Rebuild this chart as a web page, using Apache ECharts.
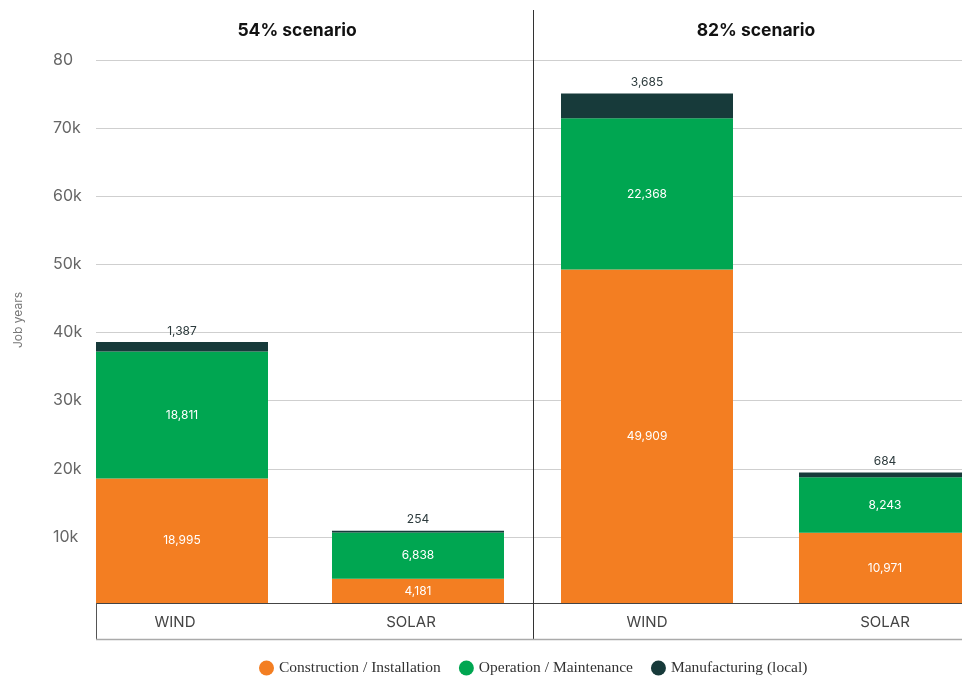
<!DOCTYPE html>
<html>
<head>
<meta charset="utf-8">
<style>html,body{margin:0;padding:0;background:#fff}#c{width:962px;height:684px}</style>
<script src="https://cdn.jsdelivr.net/npm/echarts@6/dist/echarts.min.js"></script>
</head>
<body>
<div id="c"></div>
<script>
var categories = ['WIND', 'SOLAR'];
var scenarios = ['54% scenario', '82% scenario'];
var seriesNames = ['Construction / Installation', 'Operation / Maintenance', 'Manufacturing (local)'];
var construction54 = [18995, 4181];
var operation54 = [18811, 6838];
var manufacturing54 = [1387, 254];
var construction82 = [49909, 10971];
var operation82 = [22368, 8243];
var manufacturing82 = [3685, 684];
var yTickLabels = ['', '10k', '20k', '30k', '40k', '50k', '60k', '70k', '80'];

var colors = ['#f37e22', '#00a651', '#173a3a'];
var fmt = function (v) { return String(v).replace(/\B(?=(\d{3})+(?!\d))/g, ','); };
var font = 'Inter, Roboto, sans-serif';

var chart = echarts.init(document.getElementById('c'), null, {renderer: 'canvas'});

function barSeries(name, data, idx, color, labelPos) {
  var inside = labelPos === 'inside';
  return {
    type: 'bar', name: name, data: data, stack: 'g' + idx,
    xAxisIndex: idx, yAxisIndex: idx, barWidth: 172, clip: true,
    itemStyle: {color: color},
    label: {
      show: true, position: labelPos, distance: 5,
      color: inside ? '#ffffff' : '#2d3b3d', fontSize: 12, fontFamily: font,
      formatter: function (p) { return fmt(p.value); }
    },
    emphasis: {disabled: true}
  };
}

var option = {
  animation: false,
  title: [
    {text: scenarios[0], left: 292, top: 17, textAlign: 'center',
     textStyle: {fontSize: 17.5, fontWeight: 'bold', color: '#111', fontFamily: font}},
    {text: scenarios[1], left: 751, top: 17, textAlign: 'center',
     textStyle: {fontSize: 17.5, fontWeight: 'bold', color: '#111', fontFamily: font}}
  ],
  legend: {
    bottom: 3, left: 254, icon: 'circle', itemWidth: 15, itemHeight: 15, itemGap: 18,
    data: seriesNames,
    textStyle: {fontFamily: '"Liberation Serif", "DejaVu Serif", serif', fontSize: 15.5, color: '#333'}
  },
  grid: [
    {left: 96, width: 866, top: 60, bottom: 79},
    {left: 182, width: 236, top: 60, bottom: 81},
    {left: 647, width: 238, top: 60, bottom: 81}
  ],
  xAxis: [
    {type: 'category', gridIndex: 0, data: [''], axisLine: {show: false},
     axisTick: {show: false}, axisLabel: {show: false}},
    {type: 'category', gridIndex: 1, data: categories, boundaryGap: false, axisLine: {show: false}, axisTick: {show: false},
     axisLabel: {color: '#444', fontSize: 15, fontFamily: font, margin: 12, padding: [0, 14, 0, 0]}},
    {type: 'category', gridIndex: 2, data: categories, boundaryGap: false, axisLine: {show: false}, axisTick: {show: false},
     axisLabel: {color: '#444', fontSize: 15, fontFamily: font, margin: 12}}
  ],
  yAxis: [
    {type: 'value', gridIndex: 0, min: 0, max: 80000, interval: 10000,
     axisLine: {show: false}, axisTick: {show: false},
     axisLabel: {color: '#666', fontSize: 16, fontFamily: font, margin: 43, align: 'left',
       formatter: function (v) { return yTickLabels[Math.round(v / 10000)]; }},
     splitLine: {show: true, showMinLine: false, lineStyle: {color: '#cfcfcf', width: 1}}},
    {type: 'value', gridIndex: 1, min: 600, max: 80900, show: false, splitLine: {show: false}},
    {type: 'value', gridIndex: 2, min: 600, max: 80900, show: false, splitLine: {show: false}}
  ],
  series: [
    barSeries(seriesNames[0], construction54, 1, colors[0], 'inside'),
    barSeries(seriesNames[1], operation54, 1, colors[1], 'inside'),
    barSeries(seriesNames[2], manufacturing54, 1, colors[2], 'top'),
    barSeries(seriesNames[0], construction82, 2, colors[0], 'inside'),
    barSeries(seriesNames[1], operation82, 2, colors[1], 'inside'),
    barSeries(seriesNames[2], manufacturing82, 2, colors[2], 'top')
  ],
  graphic: [
    {type: 'text', x: 18, y: 320, rotation: Math.PI / 2,
     style: {text: 'Job years', fill: '#777', font: '12px Inter, Roboto, sans-serif', align: 'center', verticalAlign: 'middle'}},
    {type: 'line', shape: {x1: 96, y1: 603.5, x2: 962, y2: 603.5}, style: {stroke: '#444', lineWidth: 1}, z: 100},
    {type: 'line', shape: {x1: 96.5, y1: 603, x2: 96.5, y2: 640}, style: {stroke: '#555', lineWidth: 1}, z: 100},
    {type: 'line', shape: {x1: 533.5, y1: 10, x2: 533.5, y2: 640}, style: {stroke: '#333', lineWidth: 1}, z: 100},
    {type: 'line', shape: {x1: 96, y1: 639.5, x2: 962, y2: 639.5}, style: {stroke: '#aaa', lineWidth: 1.5}, z: 100}
  ]
};
chart.setOption(option);
</script>
</body>
</html>
